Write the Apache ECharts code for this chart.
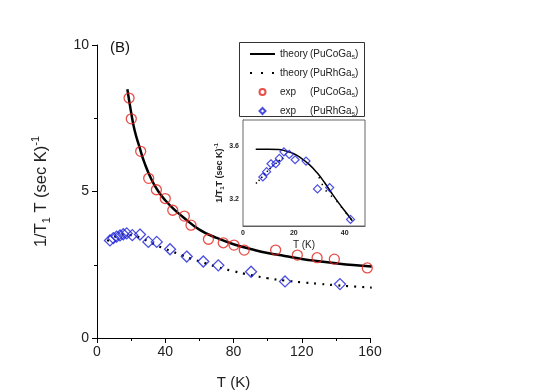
<!DOCTYPE html>
<html>
<head>
<meta charset="utf-8">
<script src="https://cdn.jsdelivr.net/npm/echarts@6/dist/echarts.min.js"></script>
<style>
html, body { margin: 0; background: #fff; }
#chart { width: 545px; height: 392px; }
</style>
</head>
<body>
<div id="chart"></div>
<script>
// exp (PuCoGa5)
var coT    = [18.8, 20.1, 25.6, 30.3, 34.8, 40.0, 44.4, 51.2, 55.1, 65.3, 74.0, 80.3, 86.3, 104.7, 117.4, 129.0, 139.1, 158.4];
var coRate = [8.19, 7.48, 6.37, 5.45, 5.06, 4.76, 4.36, 4.16, 3.85, 3.37, 3.25, 3.17, 3.00, 3.00, 2.83, 2.74, 2.69, 2.39];
// exp (PuRhGa5)
var rhT    = [7.6, 9.6, 11.5, 13.5, 15.4, 17.4, 20.7, 25.2, 30.1, 35.0, 42.8, 52.6, 62.3, 71.1, 90.3, 110.2, 142.4];
var rhRate = [3.33, 3.41, 3.46, 3.50, 3.54, 3.57, 3.51, 3.53, 3.28, 3.28, 3.03, 2.78, 2.61, 2.48, 2.26, 1.93, 1.84];
// theory (PuCoGa5)
var coFitT    = [17.8, 20, 22, 25, 28, 32, 36, 40, 45, 50, 60, 70, 80, 90, 100, 110, 120, 130, 140, 150, 161];
var coFitRate = [8.49, 7.7, 7.1, 6.5, 5.95, 5.4, 5.0, 4.7, 4.4, 4.15, 3.7, 3.42, 3.2, 3.04, 2.9, 2.8, 2.7, 2.62, 2.55, 2.49, 2.44];
// theory (PuRhGa5)
var rhFitT    = [6, 8, 10, 12, 14, 16, 18, 20, 25, 30, 35, 40, 45, 50, 55, 60, 70, 80, 90, 100, 110, 120, 130, 140, 150, 161];
var rhFitRate = [3.31, 3.38, 3.44, 3.49, 3.52, 3.54, 3.54, 3.51, 3.43, 3.30, 3.16, 3.04, 2.93, 2.82, 2.71, 2.62, 2.43, 2.28, 2.15, 2.04, 1.96, 1.90, 1.85, 1.80, 1.76, 1.72];
// inset
var inT    = [7.8, 9.3, 11.0, 12.9, 14.3, 16.1, 18.2, 20.5, 24.8, 29.3, 34.1, 42.3];
var inRate = [3.37, 3.41, 3.47, 3.47, 3.51, 3.56, 3.54, 3.50, 3.49, 3.28, 3.29, 3.05];
var inFitT    = [5, 10, 14, 17, 20, 23, 26, 29, 32, 35, 38, 41, 43];
var inFitRate = [3.58, 3.58, 3.578, 3.565, 3.545, 3.51, 3.465, 3.405, 3.33, 3.245, 3.165, 3.09, 3.04];
var inLowT    = [5.1, 8, 11, 14, 16];
var inLowRate = [3.32, 3.38, 3.44, 3.49, 3.52];
var inHighT    = [29.9, 32.9, 36.3, 39.6, 43];
var inHighRate = [3.37, 3.26, 3.20, 3.12, 3.04];

var inXTicks = [0, 20, 40];
var inYTicks = [3.2, 3.6];

var RED = '#e2231d', BLUE = '#1d22d8';

function pairs(xs, ys) {
	return xs.map(function (x, i) { return [x, ys[i]]; });
}

var legendText = {
	theoryCo: '{a|theory}{b|(PuCoGa}{s|5}{b|)}',
	theoryRh: '{a|theory}{b|(PuRhGa}{s|5}{b|)}',
	expCo: '{a|exp}{b|(PuCoGa}{s|5}{b|)}',
	expRh: '{a|exp}{b|(PuRhGa}{s|5}{b|)}'
};

var chart = echarts.init(document.getElementById('chart'));

var option = {
	animation: false,
	textStyle: { fontFamily: 'Liberation Sans' },
	grid: [
		{ left: 97, right: 175, top: 45, bottom: 54, outerBoundsMode: 'none' },
		{ left: 243, right: 180, top: 120, bottom: 166, outerBoundsMode: 'none', show: true, backgroundColor: '#fff', borderColor: '#666', borderWidth: 1, z: 5 }
	],
	legend: {
		orient: 'vertical',
		left: 244,
		top: 44,
		itemWidth: 25,
		itemHeight: 6,
		itemGap: 8,
		selectedMode: false,
		data: [
			{ name: 'theoryCo', itemStyle: { opacity: 0 } },
			{ name: 'theoryRh', itemStyle: { opacity: 0 }, lineStyle: { type: [2, 9] } },
			{ name: 'expCo' },
			{ name: 'expRh', icon: 'path://M5,0L10,5L5,10L0,5Z' }
		],
		formatter: function (name) { return legendText[name]; },
		textStyle: {
			color: '#222',
			fontSize: 10,
			rich: {
				a: { fontSize: 10, width: 30, lineHeight: 12, color: '#222' },
				b: { fontSize: 10, lineHeight: 12, color: '#222' },
				s: { fontSize: 6, lineHeight: 12, verticalAlign: 'bottom', color: '#222' }
			}
		}
	},
	graphic: [
		{ type: 'rect', shape: { x: 239.5, y: 42.5, width: 125, height: 74 }, style: { fill: 'none', stroke: '#333', lineWidth: 1 }, z: 1 },
		{ type: 'text', left: 110, top: 40, style: { text: '(B)', fontSize: 15, fill: '#111', fontFamily: 'Liberation Sans' } }
	],
	xAxis: [
		{
			type: 'value', gridIndex: 0, min: 0, max: 160, interval: 40,
			axisLine: { lineStyle: { color: '#000', width: 1 } },
			axisTick: { length: 5, lineStyle: { color: '#000' } },
			minorTick: { show: true, splitNumber: 2, length: 3, lineStyle: { color: '#000' } },
			splitLine: { show: false },
			axisLabel: { fontSize: 14, color: '#222', margin: 7 },
			name: 'T (K)', nameLocation: 'middle', nameGap: 37,
			nameTextStyle: { fontSize: 15, color: '#222' }
		},
		{
			type: 'value', gridIndex: 1, min: 0, max: 48,
			axisLine: { lineStyle: { color: '#555', width: 1 } },
			axisTick: { inside: true, length: 3, customValues: inXTicks, lineStyle: { color: '#333' } },
			splitLine: { show: false },
			axisLabel: { fontSize: 7, fontWeight: 'bold', color: '#222', margin: 4, customValues: inXTicks },
			name: 'T (K)', nameLocation: 'middle', nameGap: 14,
			nameTextStyle: { fontSize: 10, color: '#222' }
		}
	],
	yAxis: [
		{
			type: 'value', gridIndex: 0, min: 0, max: 10, interval: 5,
			axisLine: { show: true, lineStyle: { color: '#000', width: 1 } },
			axisTick: { show: true, length: 5, lineStyle: { color: '#000' } },
			minorTick: { show: true, splitNumber: 2, length: 3, lineStyle: { color: '#000' } },
			splitLine: { show: false },
			axisLabel: { fontSize: 14, color: '#222', margin: 8 },
			name: '1/T{s|1} T (sec K){p|-1}', nameLocation: 'middle', nameGap: 45,
			nameTextStyle: {
				fontSize: 16.5, color: '#222', lineHeight: 22,
				rich: {
					s: { fontSize: 11, verticalAlign: 'bottom', lineHeight: 22, color: '#222' },
					p: { fontSize: 11, verticalAlign: 'top', lineHeight: 22, color: '#222' }
				}
			}
		},
		{
			type: 'value', gridIndex: 1, min: 3.0, max: 3.8,
			axisLine: { show: true, lineStyle: { color: '#555', width: 1 } },
			axisTick: { show: true, inside: true, length: 3, customValues: inYTicks, lineStyle: { color: '#333' } },
			splitLine: { show: false },
			axisLabel: { fontSize: 7, fontWeight: 'bold', color: '#222', margin: 4, customValues: inYTicks,
				formatter: function (v) { return v.toFixed(1); } },
			name: '1/T{s|1}T (sec K){p|-1}', nameLocation: 'middle', nameGap: 14,
			nameTextStyle: {
				fontSize: 9, fontWeight: 'bold', color: '#222', lineHeight: 12,
				rich: {
					s: { fontSize: 6, fontWeight: 'bold', verticalAlign: 'bottom', lineHeight: 12, color: '#222' },
					p: { fontSize: 6, fontWeight: 'bold', verticalAlign: 'top', lineHeight: 12, color: '#222' }
				}
			}
		}
	],
	series: [
		{
			name: 'theoryCo', type: 'line', xAxisIndex: 0, yAxisIndex: 0,
			data: pairs(coFitT, coFitRate), symbol: 'none', smooth: true,
			color: '#000', lineStyle: { color: '#000', width: 2.5 }, z: 2
		},
		{
			name: 'theoryRh', type: 'line', xAxisIndex: 0, yAxisIndex: 0,
			data: pairs(rhFitT, rhFitRate), symbol: 'none', smooth: true,
			color: '#000', lineStyle: { color: '#000', width: 2.2, type: [2, 6] }, z: 2
		},
		{
			name: 'expCo', type: 'scatter', xAxisIndex: 0, yAxisIndex: 0,
			data: pairs(coT, coRate), symbol: 'circle', symbolSize: 10,
			color: RED, itemStyle: { color: 'rgba(0,0,0,0)', borderColor: RED, borderWidth: 1.3 }, z: 3
		},
		{
			name: 'expRh', type: 'scatter', xAxisIndex: 0, yAxisIndex: 0,
			data: pairs(rhT, rhRate), symbol: 'diamond', symbolSize: 11,
			color: BLUE, itemStyle: { color: 'rgba(0,0,0,0)', borderColor: BLUE, borderWidth: 1.3 }, z: 3
		},
		{
			name: 'insetFit', type: 'line', xAxisIndex: 1, yAxisIndex: 1,
			data: pairs(inFitT, inFitRate), symbol: 'none', smooth: true,
			lineStyle: { color: '#000', width: 1.5 }, z: 6
		},
		{
			name: 'insetLow', type: 'line', xAxisIndex: 1, yAxisIndex: 1,
			data: pairs(inLowT, inLowRate), symbol: 'none', smooth: true,
			lineStyle: { color: '#000', width: 1.5, type: [1.5, 2.5] }, z: 6
		},
		{
			name: 'insetHigh', type: 'line', xAxisIndex: 1, yAxisIndex: 1,
			data: pairs(inHighT, inHighRate), symbol: 'none', smooth: true,
			lineStyle: { color: '#000', width: 1.5, type: [1.5, 6] }, z: 6
		},
		{
			name: 'insetExp', type: 'scatter', xAxisIndex: 1, yAxisIndex: 1,
			data: pairs(inT, inRate), symbol: 'diamond', symbolSize: 8,
			itemStyle: { color: 'rgba(0,0,0,0)', borderColor: BLUE, borderWidth: 1.2 }, z: 7
		}
	]
};

chart.setOption(option);
</script>
</body>
</html>
